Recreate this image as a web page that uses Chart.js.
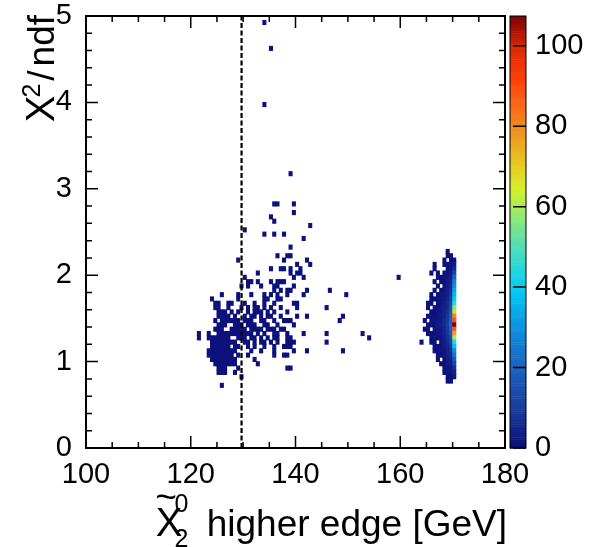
<!DOCTYPE html>
<html>
<head>
<meta charset="utf-8">
<script src="https://cdn.jsdelivr.net/npm/chart.js@4.4.1/dist/chart.umd.min.js"></script>
<style>
  html, body { margin: 0; padding: 0; background: #fff; }
  canvas { display: block; }
</style>
</head>
<body>
<canvas id="chart" width="590" height="547"></canvas>
<script>
const FONT = '"Liberation Sans", Arial, Helvetica, sans-serif';

// axis ranges and bin sizes of the 2D histogram
const xRange = [100, 180];
const yRange = [0, 5];
const zMax = 107.4;
const binX = 0.625;
const binY = 0.05;
const cutValue = 129.7; // dashed vertical line

const xTickLabels = [100, 120, 140, 160, 180];
const yTickLabels = [0, 1, 2, 3, 4, 5];
const zTickLabels = [0, 20, 40, 60, 80, 100];

// low-count cells (content 1): [y low edge, [x bin centres]]
const lowRows = [
  [4.90, [134.06]],
  [4.60, [135.31]],
  [3.95, [134.06]],
  [3.15, [139.06]],
  [2.80, [135.94, 136.56, 139.69]],
  [2.70, [139.69]],
  [2.65, [135.31]],
  [2.60, [135.94]],
  [2.55, [142.81]],
  [2.50, [130.31]],
  [2.45, [134.06, 135.94, 137.81]],
  [2.40, [141.56]],
  [2.30, [139.06]],
  [2.20, [136.56, 138.44, 139.06]],
  [2.15, [129.06, 137.81, 142.19]],
  [2.10, [140.31, 142.81]],
  [2.05, [135.31, 137.19, 137.81, 139.06, 140.94]],
  [2.00, [132.81, 139.06, 140.31, 140.94]],
  [1.95, [130.31, 139.69, 141.56, 159.69]],
  [1.90, [130.94, 131.56, 132.81, 135.31, 136.56, 137.19, 137.81]],
  [1.85, [129.69, 130.94, 133.44, 135.94, 136.56, 139.69]],
  [1.80, [135.94, 137.19, 138.44, 139.06, 142.19, 146.56]],
  [1.75, [125.94, 129.06, 131.56, 134.06, 135.31, 136.56, 138.44, 141.56, 149.69]],
  [1.70, [124.06, 129.06, 134.06, 134.69, 136.56, 137.19]],
  [1.65, [124.69, 125.31, 127.19, 127.81, 130.31, 132.19, 134.06, 135.94, 139.69, 140.31]],
  [1.60, [124.69, 125.31, 127.19, 129.69, 130.94, 132.19, 132.81, 134.06, 135.31, 137.19, 140.31, 145.94]],
  [1.55, [125.31, 125.94, 126.56, 127.81, 129.06, 130.94, 132.19, 132.81, 133.44, 134.69, 135.94, 138.44]],
  [1.50, [125.31, 125.94, 126.56, 127.19, 128.44, 130.31, 131.56, 132.19, 133.44, 134.69, 135.31, 137.19, 140.31, 142.19, 149.06]],
  [1.45, [124.69, 125.94, 126.56, 127.19, 127.81, 128.44, 129.06, 130.31, 130.94, 131.56, 133.44, 134.06, 135.94, 137.81, 138.44, 139.06, 148.44]],
  [1.40, [125.31, 125.94, 126.56, 128.44, 129.06, 129.69, 130.94, 131.56, 132.19, 134.06, 134.69, 136.56, 139.69]],
  [1.35, [124.69, 125.31, 125.94, 127.81, 128.44, 129.06, 129.69, 130.31, 131.56, 132.19, 132.81, 133.44, 134.69, 135.31, 135.94, 137.19, 137.81]],
  [1.30, [121.56, 123.44, 125.31, 125.94, 126.56, 127.19, 127.81, 128.44, 129.06, 129.69, 130.31, 130.94, 131.56, 132.81, 134.06, 135.94, 136.56, 138.44, 141.56, 145.94, 152.81]],
  [1.25, [121.56, 123.44, 124.06, 124.69, 125.31, 125.94, 126.56, 127.19, 129.06, 129.69, 130.31, 131.56, 132.19, 133.44, 134.69, 135.94, 136.56, 138.44, 139.06, 154.06]],
  [1.20, [124.06, 124.69, 125.31, 125.94, 126.56, 127.19, 127.81, 128.44, 130.31, 130.94, 132.19, 133.44, 134.06, 135.31, 136.56, 138.44, 139.06, 139.69, 145.94]],
  [1.15, [124.06, 124.69, 125.31, 125.94, 126.56, 127.19, 128.44, 129.06, 130.94, 132.19, 134.06, 135.94, 137.81, 138.44, 139.06]],
  [1.10, [123.44, 124.06, 124.69, 125.31, 125.94, 126.56, 127.19, 127.81, 128.44, 131.56, 133.44, 135.94, 139.69, 142.19, 149.06]],
  [1.05, [123.44, 124.06, 124.69, 125.31, 125.94, 126.56, 127.19, 127.81, 129.06, 130.94, 135.94, 137.81, 138.44]],
  [1.00, [124.06, 124.69, 125.31, 125.94, 126.56, 127.19, 127.81, 128.44, 132.19]],
  [0.95, [124.69, 125.31, 125.94, 126.56, 127.19, 127.81, 128.44, 132.81]],
  [0.90, [125.31, 125.94, 126.56, 129.06, 138.44, 139.06]],
  [0.85, [125.31, 125.94, 126.56, 128.44]],
  [0.80, [129.69]],
  [0.70, [125.94]],
];

// endpoint cluster: [x bin centre, y low edge, content]
const peakCells = [
  [169.06, 2.25, 1],
  [169.06, 2.20, 1], [169.69, 2.20, 1],
  [168.44, 2.15, 1], [169.69, 2.15, 1], [170.31, 2.15, 1],
  [166.56, 2.10, 1], [168.44, 2.10, 1], [169.06, 2.10, 1], [169.69, 2.10, 2], [170.31, 2.10, 3],
  [166.56, 2.05, 1], [169.06, 2.05, 1], [169.69, 2.05, 2], [170.31, 2.05, 6],
  [165.94, 2.00, 1], [167.19, 2.00, 1], [168.44, 2.00, 1], [169.06, 2.00, 2], [169.69, 2.00, 3], [170.31, 2.00, 12],
  [167.19, 1.95, 1], [167.81, 1.95, 1], [168.44, 1.95, 2], [169.06, 1.95, 2], [169.69, 1.95, 4], [170.31, 1.95, 20],
  [166.56, 1.90, 1], [167.81, 1.90, 1], [168.44, 1.90, 1], [169.06, 1.90, 3], [169.69, 1.90, 5], [170.31, 1.90, 26],
  [167.19, 1.85, 1], [168.44, 1.85, 2], [169.06, 1.85, 3], [169.69, 1.85, 6], [170.31, 1.85, 30],
  [166.56, 1.80, 1], [167.81, 1.80, 1], [168.44, 1.80, 2], [169.06, 1.80, 4], [169.69, 1.80, 7], [170.31, 1.80, 33],
  [165.94, 1.75, 1], [167.19, 1.75, 1], [167.81, 1.75, 2], [168.44, 1.75, 3], [169.06, 1.75, 4], [169.69, 1.75, 8], [170.31, 1.75, 36],
  [165.94, 1.70, 1], [166.56, 1.70, 1], [167.19, 1.70, 2], [167.81, 1.70, 2], [168.44, 1.70, 3], [169.06, 1.70, 5], [169.69, 1.70, 10], [170.31, 1.70, 40],
  [165.31, 1.65, 1], [165.94, 1.65, 1], [167.19, 1.65, 1], [167.81, 1.65, 2], [168.44, 1.65, 4], [169.06, 1.65, 6], [169.69, 1.65, 12], [170.31, 1.65, 45],
  [165.31, 1.60, 1], [166.56, 1.60, 2], [167.19, 1.60, 1], [167.81, 1.60, 3], [168.44, 1.60, 4], [169.06, 1.60, 6], [169.69, 1.60, 14], [170.31, 1.60, 55],
  [165.94, 1.55, 1], [166.56, 1.55, 1], [167.19, 1.55, 2], [167.81, 1.55, 2], [168.44, 1.55, 5], [169.06, 1.55, 7], [169.69, 1.55, 16], [170.31, 1.55, 68],
  [165.31, 1.50, 1], [165.94, 1.50, 2], [166.56, 1.50, 1], [167.19, 1.50, 2], [167.81, 1.50, 3], [168.44, 1.50, 5], [169.06, 1.50, 8], [169.69, 1.50, 18], [170.31, 1.50, 80],
  [164.69, 1.45, 1], [165.94, 1.45, 1], [166.56, 1.45, 2], [167.19, 1.45, 2], [167.81, 1.45, 3], [168.44, 1.45, 6], [169.06, 1.45, 9], [169.69, 1.45, 20], [170.31, 1.45, 88],
  [165.31, 1.40, 1], [165.94, 1.40, 1], [166.56, 1.40, 1], [167.19, 1.40, 3], [167.81, 1.40, 4], [168.44, 1.40, 6], [169.06, 1.40, 10], [169.69, 1.40, 22], [170.31, 1.40, 107],
  [164.69, 1.35, 1], [165.31, 1.35, 2], [166.56, 1.35, 2], [167.19, 1.35, 2], [167.81, 1.35, 3], [168.44, 1.35, 5], [169.06, 1.35, 9], [169.69, 1.35, 20], [170.31, 1.35, 88],
  [165.31, 1.30, 1], [165.94, 1.30, 1], [166.56, 1.30, 1], [167.19, 1.30, 2], [167.81, 1.30, 3], [168.44, 1.30, 5], [169.06, 1.30, 8], [169.69, 1.30, 17], [170.31, 1.30, 76],
  [165.94, 1.25, 1], [166.56, 1.25, 2], [167.19, 1.25, 1], [167.81, 1.25, 2], [168.44, 1.25, 4], [169.06, 1.25, 7], [169.69, 1.25, 14], [170.31, 1.25, 60],
  [164.06, 1.20, 1], [165.94, 1.20, 1], [166.56, 1.20, 1], [167.81, 1.20, 2], [168.44, 1.20, 3], [169.06, 1.20, 6], [169.69, 1.20, 11], [170.31, 1.20, 45],
  [166.56, 1.15, 1], [167.19, 1.15, 1], [167.81, 1.15, 1], [168.44, 1.15, 3], [169.06, 1.15, 5], [169.69, 1.15, 9], [170.31, 1.15, 38],
  [166.56, 1.10, 1], [167.19, 1.10, 1], [167.81, 1.10, 2], [168.44, 1.10, 2], [169.06, 1.10, 4], [169.69, 1.10, 7], [170.31, 1.10, 30],
  [167.19, 1.05, 1], [167.81, 1.05, 1], [168.44, 1.05, 2], [169.06, 1.05, 4], [169.69, 1.05, 6], [170.31, 1.05, 24],
  [167.19, 1.00, 1], [168.44, 1.00, 1], [169.06, 1.00, 3], [169.69, 1.00, 5], [170.31, 1.00, 18],
  [167.81, 0.95, 1], [168.44, 0.95, 1], [169.06, 0.95, 3], [169.69, 0.95, 4], [170.31, 0.95, 12],
  [168.44, 0.90, 1], [169.06, 0.90, 2], [169.69, 0.90, 3], [170.31, 0.90, 7],
  [168.44, 0.85, 1], [169.06, 0.85, 2], [169.69, 0.85, 2], [170.31, 0.85, 4],
  [169.06, 0.80, 1], [169.69, 0.80, 1], [170.31, 0.80, 2],
  [169.06, 0.75, 1], [169.69, 0.75, 1],
];

// colour palette (fraction of zMax -> colour)
const paletteStops = [0.00, 0.09, 0.19, 0.28, 0.36, 0.42, 0.48, 0.54, 0.60, 0.66, 0.72, 0.80, 0.86, 0.93, 1.00];
const paletteColors = ['#0c0c78', '#1a3c9e', '#1a64bf', '#0e92e0', '#00c8f5', '#28d8d8', '#5ce0a8', '#94ea70',
  '#d4f028', '#e8c820', '#ee9a20', '#f86418', '#ff3c04', '#d82808', '#7a0000'];

function hexToRgb(h) {
  return [parseInt(h.slice(1, 3), 16), parseInt(h.slice(3, 5), 16), parseInt(h.slice(5, 7), 16)];
}
function paletteColor(t) {
  t = Math.max(0, Math.min(1, t));
  let i = 0;
  while (i < paletteStops.length - 2 && t > paletteStops[i + 1]) i++;
  const f = (t - paletteStops[i]) / (paletteStops[i + 1] - paletteStops[i]);
  const a = hexToRgb(paletteColors[i]);
  const b = hexToRgb(paletteColors[i + 1]);
  const c = a.map((v, k) => Math.round(v + (b[k] - v) * f));
  return `rgb(${c[0]},${c[1]},${c[2]})`;
}

const cells = [];
lowRows.forEach(([y, xs]) => xs.forEach((x) => cells.push({ x, y: [y, y + binY], n: 1 })));
peakCells.forEach(([x, y, n]) => cells.push({ x, y: [y, y + binY], n }));

// plot frame in pixels (fixed through the axis sizes below)
const frame = { left: 86, right: 505, top: 16, bottom: 448 };
const nBinsX = (xRange[1] - xRange[0]) / binX;

const decor = {
  id: 'decor',
  afterDatasetsDraw(chart) {
    const { ctx, chartArea: a, scales: { x, y } } = chart;
    ctx.save();
    ctx.strokeStyle = '#000';
    ctx.lineWidth = 2;
    ctx.strokeRect(a.left, a.top, a.right - a.left, a.bottom - a.top);
    ctx.lineWidth = 1.5;
    ctx.beginPath();
    for (let v = xRange[0]; v <= xRange[1]; v += 5) {
      const px = x.getPixelForValue(v);
      const len = v % 20 === 0 ? 12 : 6;
      ctx.moveTo(px, a.bottom); ctx.lineTo(px, a.bottom - len);
      ctx.moveTo(px, a.top); ctx.lineTo(px, a.top + len);
    }
    for (let i = 0; i <= 25; i++) {
      const py = y.getPixelForValue(i * 0.2);
      const len = i % 5 === 0 ? 12 : 6;
      ctx.moveTo(a.left, py); ctx.lineTo(a.left + len, py);
      ctx.moveTo(a.right, py); ctx.lineTo(a.right - len, py);
    }
    ctx.stroke();
    ctx.restore();
  },
  afterDraw(chart) {
    const { ctx, chartArea: a, scales: { z } } = chart;
    ctx.save();
    // colour bar
    const bl = a.right + 5, br = a.right + 21;
    const steps = 200;
    for (let i = 0; i < steps; i++) {
      const v0 = zMax * i / steps, v1 = zMax * (i + 1) / steps;
      const p0 = z.getPixelForValue(v0), p1 = z.getPixelForValue(v1);
      ctx.fillStyle = paletteColor((v0 + v1) / 2 / zMax);
      ctx.fillRect(bl, p1, br - bl, p0 - p1 + 0.5);
    }
    ctx.strokeStyle = '#000';
    ctx.lineWidth = 1;
    ctx.strokeRect(bl, z.getPixelForValue(zMax), br - bl, z.getPixelForValue(0) - z.getPixelForValue(zMax));
    ctx.lineWidth = 1.5;
    ctx.beginPath();
    zTickLabels.forEach((v) => {
      const py = z.getPixelForValue(v);
      ctx.moveTo(br, py); ctx.lineTo(br - 13, py);
    });
    ctx.stroke();

    // x-axis title:  chi~_2^0 higher edge [GeV]
    ctx.fillStyle = '#000';
    ctx.textBaseline = 'alphabetic';
    ctx.textAlign = 'left';
    const big = `37px ${FONT}`, small = `25px ${FONT}`, chiFont = `40px ${FONT}`;
    const base = 536;
    ctx.font = big;
    const rest = ' higher edge [GeV]';
    const restLeft = a.right + 2 - ctx.measureText(rest).width;
    ctx.fillText(rest, restLeft, base);
    ctx.font = small;
    const supLeft = restLeft - 8 - ctx.measureText('0').width;
    ctx.fillText('0', supLeft, base - 24);
    ctx.fillText('2', supLeft, base + 11);
    ctx.font = chiFont;
    const chiW = ctx.measureText('Χ').width;
    const chiLeft = supLeft - chiW + 8;
    ctx.fillText('Χ', chiLeft, base);
    ctx.font = big;
    ctx.textAlign = 'center';
    ctx.fillText('~', chiLeft + chiW / 2 - 3, base - 27);

    // y-axis title, rotated:  chi^2/ndf
    ctx.save();
    ctx.translate(54, a.top - 1);
    ctx.rotate(-Math.PI / 2);
    ctx.textAlign = 'right';
    ctx.font = big;
    const ndfW = ctx.measureText('ndf').width;
    ctx.fillText('ndf', 0, 0);
    const slashW = ctx.measureText('/').width;
    ctx.fillText('/', -ndfW - 4, 0);
    ctx.font = small;
    const s2W = ctx.measureText('2').width;
    ctx.fillText('2', -ndfW - slashW - 7, -14);
    ctx.font = chiFont;
    ctx.fillText('Χ', -ndfW - slashW - s2W - 5, 0);
    ctx.restore();
    ctx.restore();
  },
};

const tickFont = { family: FONT, size: 29, lineHeight: 1 };
const noPadding = (s) => { s.paddingTop = 0; s.paddingBottom = 0; s.paddingLeft = 0; s.paddingRight = 0; };

new Chart(document.getElementById('chart'), {
  type: 'bar',
  data: {
    datasets: [
      {
        type: 'line',
        data: [{ x: cutValue, y: yRange[0] }, { x: cutValue, y: yRange[1] }],
        borderColor: '#000',
        borderWidth: 2.2,
        borderDash: [5, 2.5],
        pointRadius: 0,
        order: 0,
      },
      {
        data: cells,
        backgroundColor: (c) => paletteColor((c.raw ? c.raw.n : 1) / zMax),
        borderWidth: 0,
        inflateAmount: 0.4,
        barThickness: (frame.right - frame.left) / nBinsX,
        order: 1,
      },
    ],
  },
  plugins: [decor],
  options: {
    responsive: false,
    animation: false,
    devicePixelRatio: 1,
    layout: { padding: { top: frame.top, left: 0, right: 0, bottom: 0 } },
    plugins: { legend: { display: false }, tooltip: { enabled: false } },
    scales: {
      x: {
        type: 'linear',
        min: xRange[0],
        max: xRange[1],
        offset: false,
        grid: { display: false, drawTicks: false },
        border: { display: false },
        ticks: {
          stepSize: 20, font: tickFont, color: '#000', padding: 12, maxRotation: 0,
          callback: (v) => (xTickLabels.includes(v) ? String(v) : ''),
        },
        afterFit: (s) => { s.height = 547 - frame.bottom; noPadding(s); },
      },
      y: {
        type: 'linear',
        min: yRange[0],
        max: yRange[1],
        grid: { display: false, drawTicks: false },
        border: { display: false },
        ticks: {
          stepSize: 1, font: tickFont, color: '#000', padding: 14,
          callback: (v) => (yTickLabels.includes(v) ? String(v) : ''),
        },
        afterFit: (s) => { s.width = frame.left; noPadding(s); },
      },
      z: {
        axis: 'y',
        type: 'linear',
        position: 'right',
        min: 0,
        max: zMax,
        grid: { display: false, drawTicks: false },
        border: { display: false },
        ticks: {
          stepSize: 20, includeBounds: false, font: tickFont, color: '#000', padding: 30,
          callback: (v) => (zTickLabels.includes(v) ? String(v) : ''),
        },
        afterFit: (s) => { s.width = 590 - frame.right; noPadding(s); },
      },
    },
  },
});
</script>
</body>
</html>
